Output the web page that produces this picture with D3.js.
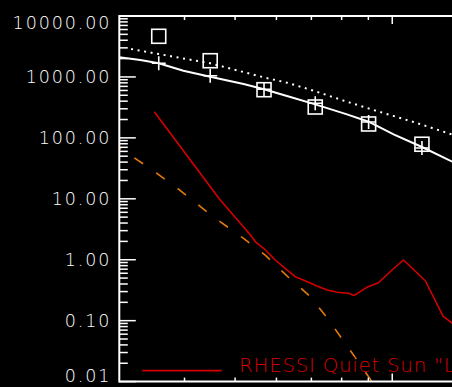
<!DOCTYPE html>
<html>
<head>
<meta charset="utf-8">
<script src="https://cdn.jsdelivr.net/npm/d3@7/dist/d3.min.js"></script>
<style>
  html, body { margin: 0; padding: 0; background: #000; overflow: hidden; }
  svg { display: block; }
</style>
</head>
<body>
<svg id="chart" width="452" height="387"></svg>
<script>
// Photon spectrum, energy (keV) against flux, log-log.

// Axis ticks
const yTickValues = [0.01, 0.1, 1, 10, 100, 1000, 10000];
const yTickLabels = ["0.01", "0.10", "1.00", "10.00", "100.00", "1000.00", "10000.00"];
const xMajorTicks = [10, 100];
const xMinorTicks = [4, 5, 6, 7, 8, 9, 20, 30, 40, 50, 60, 70, 80, 90];

// Measured points (squares and plus signs share the same energy bins)
const binEnergy = [3.57, 4.48, 5.68, 7.12, 9.01, 11.40];
const squareFlux = [4645, 1845, 617, 321, 169, 78.6];
const plusFlux = [1674, 1043, 627, 369, 182, 68];

// Solid white model curve
const modelEnergy = [3.0, 3.29, 3.57, 3.98, 4.48, 5.19, 5.68, 6.38, 7.12, 8.19, 9.01, 10.06, 11.40, 13.03, 14.1];
const modelFlux = [2099, 1896, 1674, 1265, 1009, 765, 627, 468, 355, 243, 184, 114, 70.8, 40.6, 29.1];

// Dotted white curve
const dottedEnergy = [3.16, 3.57, 4.48, 5.67, 6.29, 7.07, 8.19, 9.49, 10.99, 12.92, 14.1];
const dottedFlux = [2873, 2377, 1674, 986, 804, 594, 392, 265, 182, 116, 90.4];

// RHESSI quiet Sun spectrum (red)
const rhessiEnergy = [3.50, 4.67, 5.35, 5.47, 5.67, 5.97, 6.29, 6.52, 6.81, 7.17, 7.50, 7.84, 8.25, 8.46, 8.94, 9.41, 9.99, 10.51, 11.57, 12.51, 13.02, 13.5];
const rhessiFlux = [268.5, 9.8, 2.54, 1.97, 1.54, 0.99, 0.678, 0.526, 0.452, 0.370, 0.318, 0.292, 0.281, 0.260, 0.352, 0.419, 0.678, 0.99, 0.452, 0.119, 0.091, 0.0815];

// Thermal component (orange dashed)
const thermalEnergy = [2.9, 3.00, 3.40, 3.90, 4.52, 5.19, 5.71, 6.31, 6.97, 7.50, 8.37, 9.15, 9.49];
const thermalFlux = [78, 68.1, 33.6, 14.3, 5.21, 2.24, 1.19, 0.526, 0.247, 0.112, 0.0297, 0.00993, 0.0062];

const legendLabel = "RHESSI Quiet Sun \"Limit\"";

// Layout
const W = 452, H = 387;
const plot = { left: 119.3, top: 16, bottom: 381.6 };
const decadePx = 522;
const xDomain = [3, 100];
plot.right = plot.left + decadePx * Math.log10(xDomain[1] / xDomain[0]);

const WHITE = "#ffffff";
const RED = "#d40000";
const ORANGE = "#e57a0c";

const svg = d3.select("#chart");
svg.append("rect").attr("width", W).attr("height", H).attr("fill", "#000");

const x = d3.scaleLog().domain(xDomain).range([plot.left, plot.right]);
const y = d3.scaleLog().domain([0.01, 10000]).range([plot.bottom, plot.top]);

svg.append("defs").append("clipPath").attr("id", "plotClip")
  .append("rect")
  .attr("x", plot.left).attr("y", plot.top)
  .attr("width", plot.right - plot.left).attr("height", plot.bottom - plot.top);

const line = d3.line().x(d => x(d[0])).y(d => y(d[1]));
const zip = (a, b) => a.map((v, i) => [v, b[i]]);

const g = svg.append("g").attr("clip-path", "url(#plotClip)");

// Thermal component
g.append("path")
  .attr("d", line(zip(thermalEnergy, thermalFlux)))
  .attr("fill", "none").attr("stroke", ORANGE).attr("stroke-width", 1.6)
  .attr("stroke-dasharray", "10.5,16");

// RHESSI spectrum
g.append("path")
  .attr("d", line(zip(rhessiEnergy, rhessiFlux)))
  .attr("fill", "none").attr("stroke", RED).attr("stroke-width", 1.6)
  .attr("stroke-linejoin", "round");

// Dotted curve
g.append("path")
  .attr("d", line(zip(dottedEnergy, dottedFlux)))
  .attr("fill", "none").attr("stroke", WHITE).attr("stroke-width", 2)
  .attr("stroke-dasharray", "2,4.6");

// Solid model curve
g.append("path")
  .attr("d", line(zip(modelEnergy, modelFlux)))
  .attr("fill", "none").attr("stroke", WHITE).attr("stroke-width", 2);

// Squares
const sq = 14;
g.selectAll("rect.sq").data(zip(binEnergy, squareFlux)).join("rect")
  .attr("class", "sq")
  .attr("x", d => x(d[0]) - sq / 2).attr("y", d => y(d[1]) - sq / 2)
  .attr("width", sq).attr("height", sq)
  .attr("fill", "none").attr("stroke", WHITE).attr("stroke-width", 1.6);

// Plus signs
const ps = 7;
g.selectAll("path.plus").data(zip(binEnergy, plusFlux)).join("path")
  .attr("class", "plus")
  .attr("d", d => {
    const cx = x(d[0]), cy = y(d[1]);
    return `M${cx - ps},${cy}H${cx + ps}M${cx},${cy - ps}V${cy + ps}`;
  })
  .attr("fill", "none").attr("stroke", WHITE).attr("stroke-width", 1.6);

// Axes frame
const axis = svg.append("g").attr("stroke", WHITE).attr("fill", "none");
axis.append("line").attr("x1", plot.left).attr("x2", plot.left)
  .attr("y1", plot.top - 1).attr("y2", plot.bottom + 1).attr("stroke-width", 2);
axis.append("line").attr("x1", plot.left).attr("x2", plot.right)
  .attr("y1", plot.top).attr("y2", plot.top).attr("stroke-width", 2);
axis.append("line").attr("x1", plot.left).attr("x2", plot.right)
  .attr("y1", plot.bottom).attr("y2", plot.bottom).attr("stroke-width", 2);

// Y ticks: decades long, 2..9 short
const yMinor = [];
yTickValues.slice(0, -1).forEach(dv => { for (let k = 2; k <= 9; k++) yMinor.push(dv * k); });
axis.selectAll("line.ymaj").data(yTickValues).join("line")
  .attr("x1", plot.left).attr("x2", plot.left + 16.5)
  .attr("y1", d => y(d)).attr("y2", d => y(d)).attr("stroke-width", 1.5);
axis.selectAll("line.ymin").data(yMinor).join("line")
  .attr("x1", plot.left).attr("x2", plot.left + 8.5)
  .attr("y1", d => y(d)).attr("y2", d => y(d)).attr("stroke-width", 1.5);

// X ticks on top and bottom edges
[[plot.top, 1], [plot.bottom, -1]].forEach(([edge, dir]) => {
  axis.selectAll(null).data(xMajorTicks).join("line")
    .attr("x1", d => x(d)).attr("x2", d => x(d))
    .attr("y1", edge).attr("y2", edge + dir * 8).attr("stroke-width", 1.5);
  axis.selectAll(null).data(xMinorTicks).join("line")
    .attr("x1", d => x(d)).attr("x2", d => x(d))
    .attr("y1", edge).attr("y2", edge + dir * 4).attr("stroke-width", 1.5);
});

// Y tick labels
const cap = 12.6;
svg.append("g").selectAll("text").data(yTickValues).join("text")
  .attr("x", 111.3)
  .attr("y", d => Math.min(Math.max(y(d) + cap / 2, plot.top + cap), plot.bottom))
  .attr("text-anchor", "end")
  .attr("fill", WHITE)
  .attr("font-family", "'DejaVu Sans', sans-serif")
  .attr("font-weight", 200)
  .attr("font-size", 17.5)
  .attr("letter-spacing", 1.9)
  .text((d, i) => yTickLabels[i]);

// Legend
const lg = svg.append("g");
lg.append("line")
  .attr("x1", 142.3).attr("x2", 221.7).attr("y1", 370.7).attr("y2", 370.7)
  .attr("stroke", RED).attr("stroke-width", 1.8);
lg.append("text")
  .attr("x", 239).attr("y", 371.8)
  .attr("fill", RED)
  .attr("font-family", "'DejaVu Sans', sans-serif")
  .attr("font-weight", 200)
  .attr("font-size", 19.9)
  .attr("letter-spacing", 0.7)
  .text(legendLabel);
</script>
</body>
</html>
